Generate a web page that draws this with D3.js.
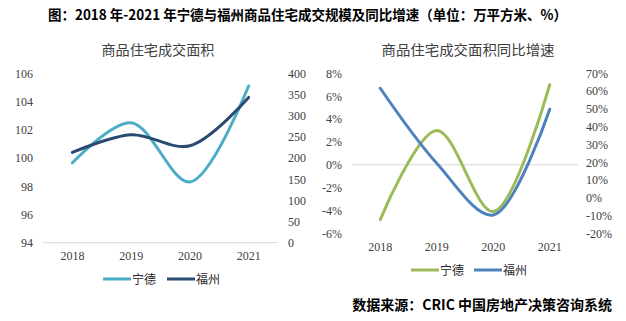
<!DOCTYPE html>
<html>
<head>
<meta charset="utf-8">
<script src="https://cdn.jsdelivr.net/npm/d3@7"></script>
<style>
  body { margin: 0; background: #fff; }
  svg { display: block; font-family: "Liberation Serif", serif; }
</style>
</head>
<body>
<div id="container"></div>
<script>
// Years and series
const years = ["2018", "2019", "2020", "2021"];
const seriesNames = ["宁德", "福州"];

// Transaction area: Ningde on the left axis, Fuzhou on the right axis
const areaNingde = [99.66, 102.5, 98.3, 105.1];
const areaFuzhou = [213, 255, 229, 343];

// YoY growth (%): Ningde on the left axis, Fuzhou on the right axis
const growthNingde = [-4.8, 3.0, -4.1, 7.0];
const growthFuzhou = [61.6, 19.4, -9.7, 49.8];

// Tick values
const areaLeftTicks = [94, 96, 98, 100, 102, 104, 106];
const areaRightTicks = [0, 50, 100, 150, 200, 250, 300, 350, 400];
const growthLeftTicks = [-6, -4, -2, 0, 2, 4, 6, 8];
const growthRightTicks = [-20, -10, 0, 10, 20, 30, 40, 50, 60, 70];

const width = 626;
const height = 321;

const svg = d3.create("svg").attr("width", width).attr("height", height);

const cjk = '"Noto Sans CJK SC", sans-serif';

// Main title
svg.append("text")
  .attr("x", 48).attr("y", 20)
  .attr("textLength", 519).attr("lengthAdjust", "spacingAndGlyphs")
  .style("font-family", cjk).style("font-weight", "bold").style("font-size", "14px")
  .attr("fill", "#000")
  .text("图：2018 年-2021 年宁德与福州商品住宅成交规模及同比增速（单位：万平方米、%）");

function drawPanel(opt) {
  const g = svg.append("g");

  g.append("text")
    .attr("x", opt.titleX).attr("y", 55)
    .attr("text-anchor", "middle")
    .attr("textLength", opt.titleLen).attr("lengthAdjust", "spacingAndGlyphs")
    .style("font-family", cjk).style("font-size", "14px").attr("fill", "#404040")
    .text(opt.title);

  const x = d3.scaleBand().domain(years).range(opt.xRange);
  const yL = d3.scaleLinear().domain(d3.extent(opt.leftTicks)).range(opt.yRange);
  const yR = d3.scaleLinear().domain(d3.extent(opt.rightTicks)).range(opt.yRange);

  // baseline / zero line
  g.append("line")
    .attr("x1", opt.xRange[0]).attr("x2", opt.xRange[1])
    .attr("y1", yL(opt.baseValue)).attr("y2", yL(opt.baseValue))
    .attr("stroke", "#d9d9d9").attr("stroke-width", 1);

  const tickStyle = (sel) => sel.call((s) => s.select(".domain").remove())
    .call((s) => s.selectAll(".tick line").remove())
    .call((s) => s.selectAll(".tick text")
      .attr("fill", "#404040").style("font-size", "12px")
      .style("font-family", '"Liberation Serif", serif'));

  g.append("g")
    .attr("transform", `translate(${opt.xRange[0]},0)`)
    .call(d3.axisLeft(yL).tickValues(opt.leftTicks).tickSize(0).tickPadding(opt.padL).tickFormat(opt.fmt))
    .call(tickStyle);

  g.append("g")
    .attr("transform", `translate(${opt.xRange[1]},0)`)
    .call(d3.axisRight(yR).tickValues(opt.rightTicks).tickSize(0).tickPadding(opt.padR).tickFormat(opt.fmt))
    .call(tickStyle);

  g.append("g")
    .attr("transform", `translate(0,${opt.xAxisY})`)
    .call(d3.axisBottom(x).tickSize(0).tickPadding(4))
    .call(tickStyle);

  const line = (scale) => d3.line()
    .x((d, i) => x(years[i]) + x.bandwidth() / 2)
    .y((d) => scale(d))
    .curve(d3.curveCatmullRom.alpha(0.5));

  g.append("path").datum(opt.left)
    .attr("fill", "none").attr("stroke", opt.colors[0]).attr("stroke-width", 3)
    .attr("stroke-linecap", "round")
    .attr("d", line(yL));

  g.append("path").datum(opt.right)
    .attr("fill", "none").attr("stroke", opt.colors[1]).attr("stroke-width", 3)
    .attr("stroke-linecap", "round")
    .attr("d", line(yR));

  // legend
  const lg = g.append("g");
  seriesNames.forEach((name, i) => {
    const lx = opt.legendX[i];
    lg.append("line")
      .attr("x1", lx).attr("x2", lx + 28)
      .attr("y1", opt.legendY).attr("y2", opt.legendY)
      .attr("stroke", opt.colors[i]).attr("stroke-width", 3);
    lg.append("text")
      .attr("x", lx + 29).attr("y", opt.legendY + 4.5)
      .style("font-family", cjk).style("font-size", "12px").attr("fill", "#262626")
      .text(name);
  });
}

drawPanel({
  title: "商品住宅成交面积",
  titleX: 158, titleLen: 113,
  xRange: [43, 278], yRange: [242.7, 73.3],
  leftTicks: areaLeftTicks, rightTicks: areaRightTicks,
  baseValue: 94, xAxisY: 247,
  padL: 10, padR: 10,
  fmt: (d) => d,
  left: areaNingde, right: areaFuzhou,
  colors: ["#4bacc6", "#2b4a72"],
  legendX: [103, 167], legendY: 279
});

drawPanel({
  title: "商品住宅成交面积同比增速",
  titleX: 468, titleLen: 173,
  xRange: [352, 578], yRange: [233.3, 73.3],
  leftTicks: growthLeftTicks, rightTicks: growthRightTicks,
  baseValue: 0, xAxisY: 238,
  padL: 10, padR: 8,
  fmt: (d) => d + "%",
  left: growthNingde, right: growthFuzhou,
  colors: ["#9bbb59", "#4f81bd"],
  legendX: [411, 474], legendY: 270
});

// Source note
svg.append("text")
  .attr("x", 612).attr("y", 310)
  .attr("text-anchor", "end")
  .style("font-family", cjk).style("font-weight", "bold").style("font-size", "14px")
  .attr("fill", "#000")
  .text("数据来源：CRIC 中国房地产决策咨询系统");

document.getElementById("container").append(svg.node());
</script>
</body>
</html>
